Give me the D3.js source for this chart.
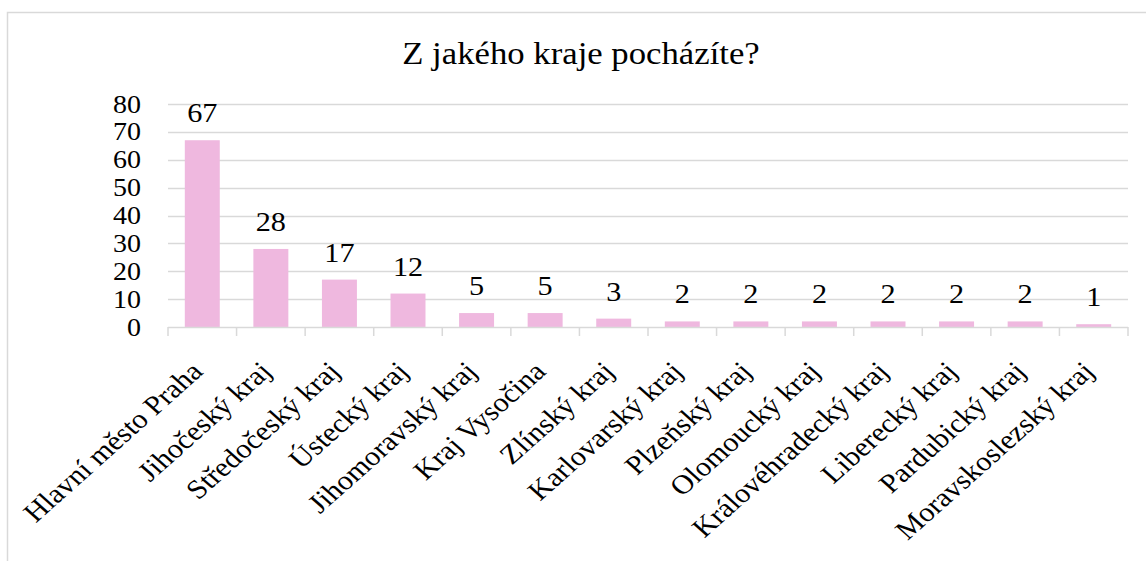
<!DOCTYPE html>
<html>
<head>
<meta charset="utf-8">
<script src="https://cdn.jsdelivr.net/npm/d3@7"></script>
</head>
<body style="margin:0; background:#fff">
<div id="chart"></div>
<script>
// data
var regions = ["Hlavní město Praha", "Jihočeský kraj", "Středočeský kraj", "Ústecký kraj",
  "Jihomoravský kraj", "Kraj Vysočina", "Zlínský kraj", "Karlovarský kraj", "Plzeňský kraj",
  "Olomoucký kraj", "Královéhradecký kraj", "Liberecký kraj", "Pardubický kraj", "Moravskoslezský kraj"];
var counts = [67, 28, 17, 12, 5, 5, 3, 2, 2, 2, 2, 2, 2, 1];
var yTicks = [0, 10, 20, 30, 40, 50, 60, 70, 80];
var title = "Z jakého kraje pocházíte?";

var W = 1146, H = 561;
var margin = { top: 104, right: 18, bottom: 234, left: 168 },
  width = W - margin.left - margin.right,
  height = H - margin.top - margin.bottom;

// the source picture is a bit wider than tall, text gets stretched the same way
var sx = 1.12;
var font = "Liberation Serif";

var root = d3.select("#chart")
  .append("svg")
  .attr("width", W)
  .attr("height", H);

// outer chart border (runs off the right and bottom edge)
root.append("rect")
  .attr("x", 7.5).attr("y", 12.5)
  .attr("width", W + 20).attr("height", H + 20)
  .attr("fill", "none")
  .attr("stroke", "#d9d9d9")
  .attr("stroke-width", 1.5);

root.append("text")
  .attr("transform", "translate(581,64) scale(" + sx + ",1)")
  .attr("text-anchor", "middle")
  .attr("font-family", font)
  .attr("font-size", 31)
  .text(title);

var svg = root.append("g")
  .attr("transform", "translate(" + margin.left + "," + margin.top + ")");

var x = d3.scaleBand()
  .domain(regions)
  .range([0, width])
  .paddingInner(0.49)
  .paddingOuter(0.245);

var y = d3.scaleLinear()
  .domain([0, 80])
  .range([height, 0]);

// gridlines
svg.append("g")
  .selectAll("line")
  .data(yTicks.slice(1))
  .enter()
  .append("line")
  .attr("x1", 0).attr("x2", width)
  .attr("y1", function (d) { return Math.round(y(d)) + 0.5; })
  .attr("y2", function (d) { return Math.round(y(d)) + 0.5; })
  .attr("stroke", "#d9d9d9")
  .attr("stroke-width", 1.5);

// y axis labels
svg.append("g")
  .selectAll("text")
  .data(yTicks)
  .enter()
  .append("text")
  .attr("transform", function (d) { return "translate(-27," + y(d) + ") scale(" + sx + ",1)"; })
  .attr("dy", "0.34em")
  .attr("text-anchor", "end")
  .attr("font-family", font)
  .attr("font-size", 25)
  .text(function (d) { return d; });

// bars
svg.append("g")
  .selectAll("rect")
  .data(counts)
  .enter()
  .append("rect")
  .attr("x", function (d, i) { return x(regions[i]); })
  .attr("y", function (d) { return y(d); })
  .attr("width", x.bandwidth())
  .attr("height", function (d) { return height - y(d); })
  .attr("fill", "#efb8df");

// value labels
svg.append("g")
  .selectAll("text")
  .data(counts)
  .enter()
  .append("text")
  .attr("transform", function (d, i) {
    return "translate(" + (x(regions[i]) + x.bandwidth() / 2) + "," + (y(d) - 18) + ") scale(" + sx + ",1)";
  })
  .attr("text-anchor", "middle")
  .attr("font-family", font)
  .attr("font-size", 27)
  .text(function (d) { return d; });

// x axis line + ticks between categories
var step = x.step();
var xaxis = svg.append("g").attr("transform", "translate(0," + height + ")");
xaxis.append("line")
  .attr("x1", 0).attr("x2", width)
  .attr("y1", 0.5).attr("y2", 0.5)
  .attr("stroke", "#d9d9d9")
  .attr("stroke-width", 1.5);
xaxis.selectAll(".tk")
  .data(d3.range(regions.length + 1))
  .enter()
  .append("line")
  .attr("class", "tk")
  .attr("x1", function (i) { return i * step; })
  .attr("x2", function (i) { return i * step; })
  .attr("y1", 0).attr("y2", 9)
  .attr("stroke", "#d9d9d9")
  .attr("stroke-width", 1.5);

// rotated category labels
xaxis.selectAll(".lbl")
  .data(regions)
  .enter()
  .append("text")
  .attr("class", "lbl")
  .attr("text-anchor", "end")
  .attr("transform", function (d) {
    return "translate(" + (x(d) + x.bandwidth() / 2 + 2) + ",46) scale(" + sx + ",1) rotate(-45)";
  })
  .attr("font-family", font)
  .attr("font-size", 27)
  .text(function (d) { return d; });
</script>
</body>
</html>
